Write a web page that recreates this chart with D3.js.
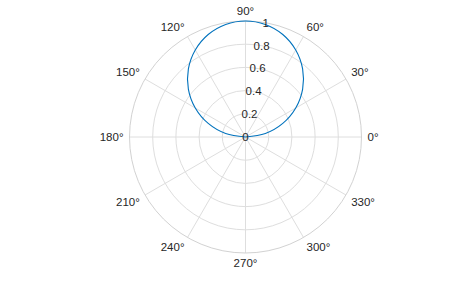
<!DOCTYPE html>
<html>
<head>
<meta charset="utf-8">
<script src="https://cdn.jsdelivr.net/npm/d3@7"></script>
<style>
  html, body { margin: 0; padding: 0; background: #fff; }
  svg { display: block; font-family: "Liberation Sans", Arial, sans-serif; }
</style>
</head>
<body>
<svg id="chart" width="474" height="285"></svg>
<script>
// Data (theta in degrees, radius)
const thetaDeg = [0, 10, 20, 30, 40, 50, 60, 70, 80, 90, 100, 110, 120, 130, 140, 150, 160, 170, 180];
const rValues  = [0, 0.174, 0.342, 0.5, 0.643, 0.766, 0.866, 0.94, 0.985, 1, 0.985, 0.94, 0.866, 0.766, 0.643, 0.5, 0.342, 0.174, 0];
const rTicks = [0, 0.2, 0.4, 0.6, 0.8, 1];
const rTickLabels = ["0", "0.2", "0.4", "0.6", "0.8", "1"];
const thetaTicks = [0, 30, 60, 90, 120, 150, 180, 210, 240, 270, 300, 330];
const thetaTickLabels = ["0°", "30°", "60°", "90°", "120°", "150°", "180°", "210°", "240°", "270°", "300°", "330°"];

const cx = 245.5, cy = 137, R = 116;
const svg = d3.select("#chart");
const g = svg.append("g").attr("transform", `translate(${cx},${cy})`);
const r = d3.scaleLinear().domain([0, 1]).range([0, R]);
const toRad = d => d * Math.PI / 180;

const gridColor = "#dedede";
const textColor = "#262626";

// spokes
g.selectAll("line.spoke").data(thetaTicks).join("line")
  .attr("class", "spoke")
  .attr("x1", 0).attr("y1", 0)
  .attr("x2", d => r(1) * Math.cos(toRad(d)))
  .attr("y2", d => -r(1) * Math.sin(toRad(d)))
  .attr("stroke", gridColor).attr("stroke-width", 1);

// rings
g.selectAll("circle.ring").data(rTicks.filter(d => d > 0)).join("circle")
  .attr("class", "ring")
  .attr("r", d => r(d))
  .attr("fill", "none")
  .attr("stroke", d => d === 1 ? "#d2d2d2" : gridColor)
  .attr("stroke-width", 1);

// data curve
const line = d3.lineRadial()
  .angle((d, i) => Math.PI / 2 - toRad(thetaDeg[i]))
  .radius(d => r(d))
  .curve(d3.curveCardinal.tension(0));
g.append("path")
  .datum(rValues)
  .attr("d", line)
  .attr("fill", "none")
  .attr("stroke", "#0072BD")
  .attr("stroke-width", 1.1);

// theta labels
const off = 6;
g.selectAll("text.tl").data(thetaTicks).join("text")
  .attr("class", "tl")
  .attr("x", d => (R + off) * Math.cos(toRad(d)))
  .attr("y", d => -(R + off) * Math.sin(toRad(d)))
  .attr("text-anchor", d => {
    const c = Math.cos(toRad(d));
    return c > 0.01 ? "start" : (c < -0.01 ? "end" : "middle");
  })
  .attr("dominant-baseline", d => {
    const s = Math.sin(toRad(d));
    return s > 0.01 ? "alphabetic" : (s < -0.01 ? "hanging" : "central");
  })
  .attr("font-size", 11.5)
  .attr("fill", textColor)
  .text((d, i) => thetaTickLabels[i]);

// r labels along 80°
g.selectAll("text.rl").data(rTicks).join("text")
  .attr("class", "rl")
  .attr("x", d => r(d) * Math.cos(toRad(80)))
  .attr("y", d => -r(d) * Math.sin(toRad(80)))
  .attr("text-anchor", "middle")
  .attr("dominant-baseline", "central")
  .attr("font-size", 11.5)
  .attr("fill", textColor)
  .text((d, i) => rTickLabels[i]);
</script>
</body>
</html>
